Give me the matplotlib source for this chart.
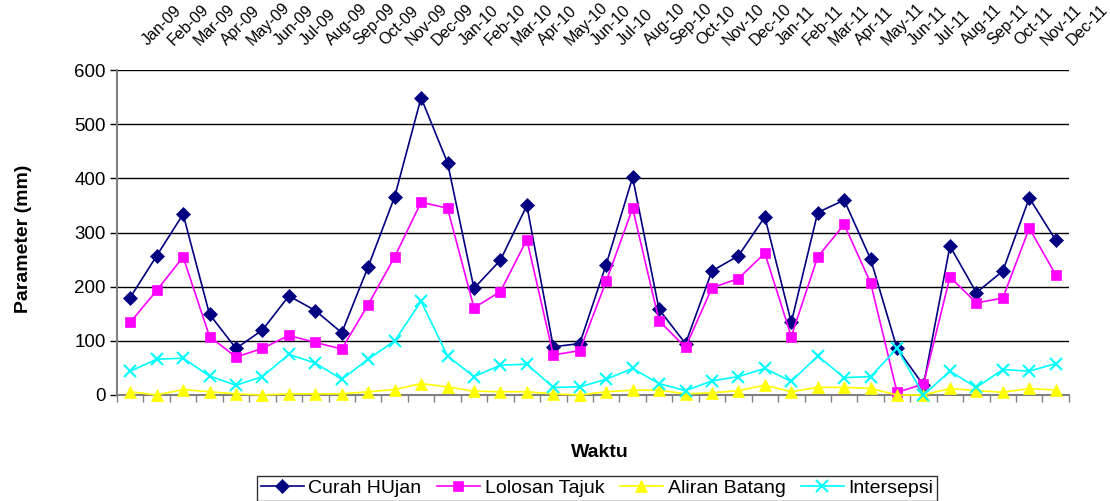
import matplotlib
matplotlib.use("Agg")
import matplotlib.pyplot as plt
import matplotlib.transforms as mtransforms
import numpy as np

plt.rcParams["font.family"] = ["Liberation Sans", "DejaVu Sans"]

MONTHS = [
    "Jan-09", "Feb-09", "Mar-09", "Apr-09", "May-09", "Jun-09", "Jul-09", "Aug-09", "Sep-09",
    "Oct-09", "Nov-09", "Dec-09", "Jan-10", "Feb-10", "Mar-10", "Apr-10", "May-10", "Jun-10",
    "Jul-10", "Aug-10", "Sep-10", "Oct-10", "Nov-10", "Dec-10", "Jan-11", "Feb-11", "Mar-11",
    "Apr-11", "May-11", "Jun-11", "Jul-11", "Aug-11", "Sep-11", "Oct-11", "Nov-11", "Dec-11",
]

# values (mm)
curah_hujan = [180, 257, 334, 149, 86, 120, 183, 156, 115, 237, 366, 549,
               429, 197, 249, 350, 89, 95, 241, 402, 158, 95, 229, 257,
               329, 134, 337, 360, 251, 86, 18, 275, 189, 229, 364, 286]
lolosan_tajuk = [134, 193, 255, 108, 70, 86, 110, 97, 85, 167, 255, 356,
                 345, 161, 191, 287, 74, 82, 210, 345, 137, 88, 198, 215,
                 262, 108, 255, 315, 207, 5, 20, 218, 170, 179, 308, 222]
aliran_batang = [6, 0, 10, 6, 2, 0, 2, 2, 2, 6, 10, 21,
                 15, 7, 6, 6, 2, 0, 6, 9, 9, 2, 4, 8,
                 18, 6, 14, 14, 12, 0, 0, 12, 8, 5, 12, 9]
intersepsi = [44, 66, 68, 35, 18, 34, 75, 59, 29, 66, 100, 173,
              72, 34, 55, 57, 14, 15, 29, 49, 21, 8, 26, 34,
              49, 25, 72, 32, 34, 86, 0, 44, 14, 47, 44, 58]

SERIES = [
    ("Curah HUjan", curah_hujan, "#000080", "D", 7.5),
    ("Lolosan Tajuk", lolosan_tajuk, "#FF00FF", "s", 7),
    ("Aliran Batang", aliran_batang, "#FFFF00", "^", 9),
    ("Intersepsi", intersepsi, "#00FFFF", "x", 8.5),
]


def main():
    fig = plt.figure(figsize=(11.10, 5.01), dpi=100)
    ax = fig.add_axes([0.1054, 0.2116, 0.8576, 0.6484])

    x = np.arange(len(MONTHS))
    handles = []
    for name, values, color, marker, ms in SERIES:
        h, = ax.plot(x, values, color=color, marker=marker, markersize=ms,
                     markeredgewidth=1.5 if marker == "x" else 0.5,
                     markeredgecolor=color, linewidth=1.2, label=name,
                     clip_on=False, zorder=3)
        handles.append(h)

    ax.set_xlim(-0.5, len(MONTHS) - 0.5)
    ax.set_ylim(0, 600)
    ax.set_yticks(range(0, 601, 100))
    ax.yaxis.grid(True, color="#000000", linewidth=1.0)
    ax.set_axisbelow(True)

    for side in ("top", "right"):
        ax.spines[side].set_visible(False)
    ax.spines["left"].set_color("#808080")
    ax.spines["left"].set_linewidth(1.5)
    ax.spines["bottom"].set_color("#808080")
    ax.spines["bottom"].set_linewidth(1.5)
    ax.spines["bottom"].set_zorder(2.5)

    ax.tick_params(axis="y", length=5, width=1, color="#000000", labelsize=13.5, pad=3)

    # month labels on top, tick marks between months at the bottom
    ax.set_xticks(x)
    ax.set_xticklabels(MONTHS)
    ax.set_xticks(np.arange(len(MONTHS) + 1) - 0.5, minor=True)
    ax.tick_params(axis="x", which="major", bottom=False, top=False,
                   labelbottom=False, labeltop=True, labelsize=11.5, pad=14)
    ax.tick_params(axis="x", which="minor", bottom=True, top=False,
                   length=5, width=1, color="#808080", direction="out")
    shift = mtransforms.ScaledTranslation(0.17, 0, fig.dpi_scale_trans)
    for lab in ax.get_xticklabels():
        lab.set_rotation(45)
        lab.set_rotation_mode("anchor")
        lab.set_ha("left")
        lab.set_va("baseline")
        lab.set_transform(lab.get_transform() + shift)

    ax.set_ylabel("Parameter (mm)", fontsize=14, fontweight="bold")
    ax.yaxis.set_label_coords(-0.089, 0.48)
    fig.text(0.54, 0.097, "Waktu", fontsize=14, fontweight="bold",
             ha="center", va="center")

    leg = fig.legend(handles=handles, loc="lower center", bbox_to_anchor=(0.538, 0.0),
                     ncol=4, frameon=True, fancybox=False,
                     prop={"size": 14},
                     edgecolor="#000000", handlelength=2.2, columnspacing=0.8,
                     handletextpad=0.25, borderpad=0.2, borderaxespad=0)
    leg.get_frame().set_linewidth(1.0)

    fig.savefig("out.png", dpi=100)


if __name__ == "__main__":
    main()
